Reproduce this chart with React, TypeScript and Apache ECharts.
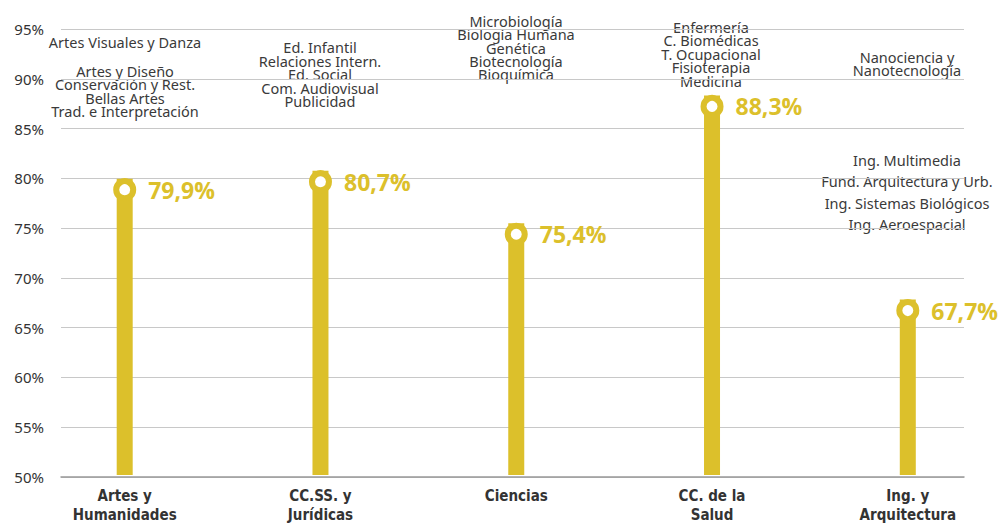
import React, { useEffect, useRef } from "react";
import * as echarts from "echarts";

const categories = [
  "Artes y\nHumanidades",
  "CC.SS. y\nJurídicas",
  "Ciencias",
  "CC. de la\nSalud",
  "Ing. y\nArquitectura",
];
const values = [79.9, 80.7, 75.4, 88.3, 67.7];
const yTicks = { min: 50, max: 95, interval: 5 };

const notesArtesA = ["Artes Visuales y Danza"];
const notesArtesB = ["Artes y Diseño", "Conservación y Rest.", "Bellas Artes", "Trad. e Interpretación"];
const notesCCSS = ["Ed. Infantil", "Relaciones Intern.", "Ed. Social", "Com. Audiovisual", "Publicidad"];
const notesCiencias = ["Microbiología", "Biología Humana", "Genética", "Biotecnología", "Bioquímica"];
const notesSalud = ["Enfermería", "C. Biomédicas", "T. Ocupacional", "Fisioterapia", "Medicina"];
const notesIngA = ["Nanociencia y", "Nanotecnología"];
const notesIngB = ["Ing. Multimedia", "Fund. Arquitectura y Urb.", "Ing. Sistemas Biológicos", "Ing. Aeroespacial"];

const YELLOW = "#DCC02B";
const TEXT = "#3a3a3a";
const BAR_WIDTH = 16;

function noteBlock(lines: string[], x: number, y0: number, step: number) {
  return lines.map((t, i) => ({
    type: "text",
    x,
    y: y0 + i * step,
    style: {
      text: t,
      fill: TEXT,
      font: "14.5px 'Noto Sans', sans-serif",
      textAlign: "center",
      textVerticalAlign: "middle",
    },
  }));
}

export default function App() {
  const ref = useRef<HTMLDivElement>(null);
  useEffect(() => {
    if (!ref.current) return;
    const chart = echarts.init(ref.current, null, { renderer: "svg" });
    const top = 29;
    const height = 448;
    chart.setOption({
      animation: false,
      backgroundColor: "#ffffff",
      grid: [
        { left: 61, width: 903, top, height },
        { left: 124.7, width: 783.1, top, height },
      ],
      xAxis: [
        {
          gridIndex: 0,
          type: "value",
          min: 0,
          max: 1,
          axisLine: { show: true, onZero: false, lineStyle: { color: "#999999", width: 1.5 } },
          axisTick: { show: false },
          axisLabel: { show: false },
          splitLine: { show: false },
        },
        {
          gridIndex: 1,
          type: "category",
          boundaryGap: false,
          data: categories,
          axisLine: { show: false },
          axisTick: { show: false },
          axisLabel: {
            color: "#333333",
            fontFamily: "'DejaVu Sans Condensed', 'Liberation Sans Narrow', sans-serif",
            fontWeight: "bold",
            fontSize: 15,
            lineHeight: 18.5,
            margin: 12,
            interval: 0,
          },
        },
      ],
      yAxis: [
        {
          gridIndex: 0,
          type: "value",
          min: yTicks.min,
          max: yTicks.max,
          interval: yTicks.interval,
          axisLine: { show: false },
          axisTick: { show: false },
          axisLabel: {
            formatter: "{value}%",
            color: "#333333",
            fontFamily: "'Noto Sans', sans-serif",
            fontSize: 15,
            margin: 17,
          },
          splitLine: { show: true, lineStyle: { color: "#c8c8c8", width: 1 } },
        },
        {
          gridIndex: 1,
          type: "value",
          min: yTicks.min,
          max: yTicks.max,
          interval: yTicks.interval,
          show: false,
          splitLine: { show: false },
        },
      ],
      series: [
        {
          type: "custom",
          xAxisIndex: 1,
          yAxisIndex: 1,
          clip: false,
          data: values.map((v, i) => [i, v]),
          renderItem: (params: any, api: any) => {
            const topPt = api.coord([api.value(0), api.value(1)]);
            const basePt = api.coord([api.value(0), yTicks.min]);
            return {
              type: "rect",
              shape: {
                x: topPt[0] - BAR_WIDTH / 2,
                y: topPt[1],
                width: BAR_WIDTH,
                height: basePt[1] - topPt[1],
              },
              style: { fill: YELLOW },
            };
          },
          z: 2,
        },
        {
          type: "scatter",
          xAxisIndex: 1,
          yAxisIndex: 1,
          data: values,
          clip: false,
          symbol: "circle",
          symbolSize: 17,
          symbolOffset: [0, 11],
          itemStyle: { color: "#ffffff", borderColor: YELLOW, borderWidth: 6, opacity: 1 },
          label: {
            show: true,
            position: "right",
            distance: 12,
            color: YELLOW,
            fontFamily: "'Open Sans', sans-serif",
            fontWeight: "bold",
            fontSize: 23,
            formatter: (p: any) => String(p.value.toFixed(1)).replace(".", ",") + "%",
          },
          z: 3,
        },
      ],
      graphic: [
        ...noteBlock(notesArtesA, 125, 42, 13.5),
        ...noteBlock(notesArtesB, 125, 71, 13.4),
        ...noteBlock(notesCCSS, 320, 47, 13.5),
        ...noteBlock(notesCiencias, 516, 21, 13.3),
        ...noteBlock(notesSalud, 711, 27, 13.4),
        ...noteBlock(notesIngA, 907, 57, 12.8),
        ...noteBlock(notesIngB, 907, 160, 21.3),
      ],
    });
    return () => chart.dispose();
  }, []);
  return (
    <div
      ref={ref}
      style={{ position: "absolute", left: 0, top: 0, width: 1000, height: 524 }}
    />
  );
}
